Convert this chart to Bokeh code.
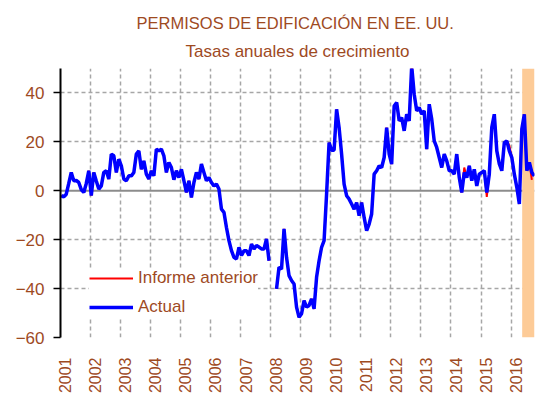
import math
from bokeh.plotting import figure
from bokeh.models import (FixedTicker, Span, Legend, LegendItem, Title, Range1d,
                          CustomJSTickFormatter)
from bokeh.embed import file_html
from bokeh.resources import INLINE

nan = float("nan")

# Monthly annual growth rates (%), building permits, Jan 2001 - Oct 2016
y2001 = [-2, -2.5, -1.4, 3, 7.5, 4.1, 4.2, 3.4, 0.5, -0.7, 3, 8.2]
y2002 = [-2, 7.5, 4, 0.7, 2, 7.5, 8.2, 4.8, 15, 14.3, 7.5, 12.9]
y2003 = [10.2, 4.8, 4.1, 6.1, 6.1, 7.5, 15, 16.3, 8.8, 12.2, 6.8, 4.8]
y2004 = [8.2, 6.1, 17, 16.3, 17, 14.3, 7.5, 11.6, 9.5, 4.5, 8.2, 5.4]
y2005 = [8.8, 4.1, -0.7, 4.1, -2.7, 3.4, 7.5, 4.8, 10.9, 7.5, 4.1, 5.4]
y2006 = [3.4, 2, 2.7, 0.7, -7.5, -8.8, -15, -20.4, -24.5, -27.2, -27.9, -23.1]
y2007 = [-26.5, -24.5, -24.5, -26.5, -21.8, -23.8, -22.4, -23, -23.8, -23.8, -19.7, -28.6]
y2008 = [nan, nan, -40.1, -31.3, -32, -15.6, -27.2, -34.7, -36.7, -38.1, -47.6, -51.7]
y2009 = [-50.3, -44.9, -47.6, -46.9, -44.2, -48.3, -35.4, -28.6, -23.1, -20.4, -1.4, 19.7]
y2010 = [16.6, 16.6, 33.3, 25.8, 15, 2.7, -2, -3.4, -5.4, -7.5, -4.8, -10.2]
y2011 = [-4.8, -10.9, -16.3, -13.6, -9.5, 6.8, 8.2, 10.2, 9.5, 13.6, 25.8, 15]
y2012 = [10.9, 34.7, 36.1, 28.6, 29.9, 24.5, 31.3, 28.6, 51, 39.5, 32.7, 34]
y2013 = [31.3, 32.7, 17, 35.4, 29.3, 20.4, 17.7, 13.6, 9.5, 15, 12.2, 8.2]
y2014 = [8.2, 6.8, 15, 5.4, -0.7, 7.5, 5.4, 10.2, 4.1, 8.8, 2, 6.8]
y2015 = [7.5, 8.2, -0.7, 6.8, 25.9, 31.3, 16.3, 11, 8.2, 19.7, 20.4, 16.3]
y2016 = [13.6, 6.8, 1.4, -5.4, 25.2, 31.3, 8.2, 11.6, 7.5, 6.1]

# Previous report: same history up to Sep 2016, with a few different values
prev_revisions = {161: 9.5, 170: -2.5, 179: 18.5, 188: 4.5}

year_labels = list(range(2001, 2017))
y_ticks = [-60, -40, -20, 0, 20, 40]
shade_start = 2016.37
x_end = 2016.78

title1 = "PERMISOS DE  EDIFICACIÓN EN EE. UU."
title2 = "Tasas anuales de crecimiento"

actual = (y2001 + y2002 + y2003 + y2004 + y2005 + y2006 + y2007 + y2008 +
          y2009 + y2010 + y2011 + y2012 + y2013 + y2014 + y2015 + y2016)
t_actual = [2001 + (i + 0.3) / 12 for i in range(len(actual))]
previous = list(actual[:-1])
for k, v in prev_revisions.items():
    previous[k] = v
t_prev = t_actual[:len(previous)]

BROWN = "#9E4A1F"
FONT = "Liberation Sans"
GRID = "#a6a6a6"

p = figure(width=536, height=400, output_backend="svg", toolbar_location=None,
           x_range=Range1d(2001, x_end), y_range=Range1d(-60, 50),
           title=title1, min_border_left=60, min_border_right=2,
           min_border_top=68, min_border_bottom=63)
p.title.align = "center"
p.title.text_font = FONT
p.title.text_font_size = "16.5px"
p.title.text_font_style = "normal"
p.title.text_color = BROWN
p.title.text_line_height = 0.65
p.title.standoff = 0
p.add_layout(Title(text=title2, align="center", text_font=FONT, text_font_size="17px",
                   text_font_style="normal", text_color=BROWN, standoff=16), "above")

p.outline_line_color = None
p.background_fill_color = "white"
p.border_fill_color = "white"

# grids
p.xgrid.ticker = FixedTicker(ticks=year_labels[1:])
p.ygrid.ticker = FixedTicker(ticks=[t for t in y_ticks if t != 0])
for g in (p.xgrid, p.ygrid):
    g.grid_line_color = GRID
    g.grid_line_dash = "4 3"
    g.grid_line_width = 1.5
p.add_layout(Span(location=0, dimension="width", line_color="#8c8c8c",
                  line_width=2, level="underlay"))

# shaded recent period
p.quad(left=[shade_start], right=[x_end], bottom=[-60], top=[50],
       fill_color="#FDCB97", line_color=None)

r_prev = p.line(t_prev, previous, line_color="#FF0000", line_width=2)
r_act = p.line(t_actual, actual, line_color="#0000FF", line_width=3.5)

# y axis
ya = p.yaxis[0]
ya.ticker = FixedTicker(ticks=y_ticks)
ya.axis_line_color = "black"
ya.axis_line_width = 2
ya.major_tick_out = 7
ya.major_tick_in = 0
ya.major_tick_line_color = "black"
ya.major_tick_line_width = 1.5
ya.minor_tick_line_color = None
ya.major_label_text_color = BROWN
ya.major_label_text_font = FONT
ya.major_label_text_font_size = "17px"
ya.major_label_standoff = 9

# x axis
xa = p.xaxis[0]
xa.ticker = FixedTicker(ticks=[y + 0.16 for y in year_labels])
xa.formatter = CustomJSTickFormatter(code="return Math.floor(tick).toString();")
xa.major_label_orientation = math.pi / 2
xa.axis_line_color = None
xa.major_tick_line_color = None
xa.minor_tick_line_color = None
xa.major_label_text_color = BROWN
xa.major_label_text_font = FONT
xa.major_label_text_font_size = "16px"
xa.major_label_standoff = 14

legend = Legend(items=[LegendItem(label="Informe anterior", renderers=[r_prev]),
                       LegendItem(label="Actual", renderers=[r_act])],
                location=(29, 20), padding=7, margin=0, spacing=9,
                glyph_width=44, glyph_height=20, label_height=20, label_standoff=5,
                label_text_font=FONT, label_text_font_size="17px",
                label_text_color=BROWN, background_fill_color="white",
                background_fill_alpha=1, border_line_color=None)
p.add_layout(legend)

open("out.html", "w").write(file_html(p, INLINE))
